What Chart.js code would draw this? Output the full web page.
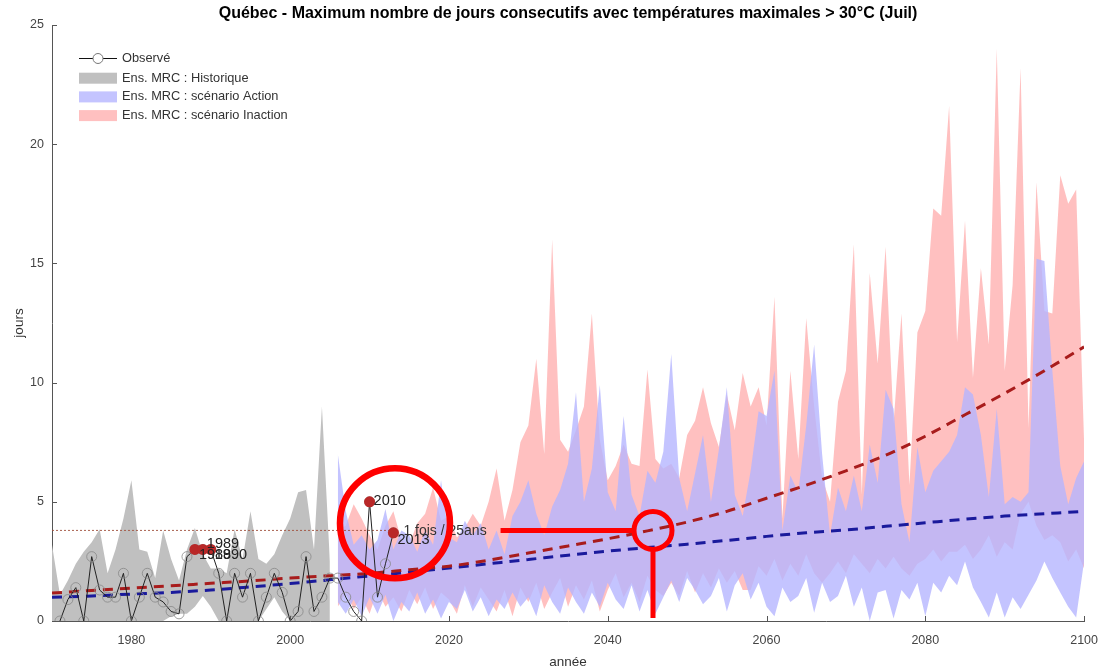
<!DOCTYPE html>
<html>
<head>
<meta charset="utf-8">
<script src="https://cdn.jsdelivr.net/npm/chart.js@4.4.1/dist/chart.umd.min.js"></script>
<style>
  html, body { margin: 0; padding: 0; background: #fff; }
</style>
</head>
<body>
<canvas id="myChart" width="1110" height="672"></canvas>
<script>
// --- data ---
const xTicks = [1980, 2000, 2020, 2040, 2060, 2080, 2100];
const yTicks = [0, 5, 10, 15, 20, 25];

const histYears = [];
for (let yr = 1970; yr <= 2005; yr++) histYears.push(yr);
const scenYears = [];
for (let yr = 2006; yr <= 2100; yr++) scenYears.push(yr);
const obsYears = [];
for (let yr = 1971; yr <= 2013; yr++) obsYears.push(yr);
const trendYears = [];
for (let yr = 1970; yr <= 2100; yr += 5) trendYears.push(yr);

// Observed max consecutive days > 30°C (1971-2013)
const observed = [0, 0.9, 1.4, 0, 2.7, 1.3, 1.0, 1.0, 2.0, 0,
  1.0, 2.0, 1.0, 0.8, 0.4, 0.3, 2.7, 3.0, 3.0, 3.0,
  2.0, 0, 2.0, 1.0, 2.0, 0, 1.0, 2.0, 1.2, 0,
  0.4, 2.7, 0.4, 1.0, 1.8, 1.8, 1.0, 0.4, 0, 5.0,
  1.0, 2.4, 3.7];

// highlighted (above 1-in-25 yr level)
const highlightYears = [1988, 1989, 1990, 2010, 2013];
const highlightVals = [3.0, 3.0, 3.0, 5.0, 3.7];

// Ens. MRC historical envelope (1970-2005)
const histUpper = [3.2, 1.1, 1.7, 2.4, 2.9, 3.3, 3.85, 2.0, 3.0, 4.3,
  5.9, 3.0, 2.9, 1.8, 3.8, 2.6, 1.7, 3.0, 3.9, 2.8,
  2.2, 2.2, 2.0, 3.85, 2.6, 4.6, 2.6, 2.4, 2.8, 3.6,
  4.3, 5.4, 5.5, 3.0, 9.0, 2.5];
const histLower = [0, 0, 0, 0, 0, 0, 0, 0, 0, 0,
  0, 0, 0, 0, 0, 0.2, 0.3, 0.3, 0.6, 1.05,
  0.6, 0, 0, 0, 0, 0, 0, 0.5, 1.0, 0.4,
  0, 0, 0, 0, 0, 0];

// scénario Action envelope (2006-2100)
const actionUpper = [7.0, 4.6, 3.2, 3.6, 3.0, 3.4, 4.7, 3.0, 3.8, 3.6,
  2.9, 3.8, 3.2, 5.9, 3.5, 3.3, 4.2, 3.6, 4.1, 3.0,
  3.8, 2.8, 4.4, 5.0, 5.9, 4.5, 3.6, 4.8, 5.5, 6.6,
  9.6, 5.0, 6.4, 9.9, 5.4, 4.6, 8.6, 5.3, 4.4, 6.3,
  5.8, 7.1, 11.2, 6.0, 4.6, 6.2, 7.8, 5.0, 7.2, 9.8,
  5.3, 4.4, 6.3, 8.8, 8.6, 10.5, 3.8, 6.1, 5.4, 8.2,
  11.6, 7.0, 3.6, 5.6, 4.6, 6.1, 4.6, 7.4, 5.8, 9.7,
  8.9, 4.9, 3.3, 7.3, 5.4, 6.3, 6.7, 7.1, 7.8, 9.8,
  9.5, 7.8, 5.2, 8.9, 4.9, 5.2, 5.0, 5.4, 15.2, 15.1,
  10.5, 6.5, 4.9, 6.0, 6.7];
const actionLower = [0.8, 0.3, 0.9, 0.2, 1.0, 0.3, 1.1, 0.0, 0.8, 0.4,
  1.2, 0.3, 0.9, 0.1, 0.8, 0.5, 1.3, 0.4, 1.0, 0.2,
  0.9, 0.5, 1.2, 0.6, 1.0, 0.2, 1.5, 0.8, 0.3, 1.4,
  0.8, 0.3, 1.2, 0.6, 1.6, 0.9, 0.5, 1.5, 0.4, 1.3,
  0.3, 1.0, 1.7, 0.8, 1.8, 1.3, 0.7, 1.05, 1.8, 0.4,
  1.5, 2.0, 0.9, 1.6, 0.6, 0.2, 1.4, 0.8, 1.05, 1.8,
  0.35, 1.6, 0.8, 1.05, 1.9, 0.6, 1.4, 0.0, 1.2, 1.3,
  0.1, 1.3, 0.9, 1.6, 0.2, 1.6, 1.2, 1.9, 1.5, 2.5,
  1.4, 0.8, 0.15, 1.2, 0.15, 1.0, 0.5, 1.1, 1.7, 2.5,
  1.8, 1.2, 0.6, 0.15, 2.5];

// scénario Inaction envelope (2006-2100)
const inactionUpper = [3.8, 4.0, 4.9, 4.3, 3.6, 3.0, 4.0, 4.6, 3.4, 3.2,
  4.1, 4.5, 5.6, 4.2, 4.4, 3.5, 3.9, 4.5, 4.0, 5.0,
  6.4, 4.2, 5.5, 7.5, 8.2, 11.0, 7.0, 16.0, 7.6, 7.1,
  8.0, 9.0, 12.9, 7.6, 5.9, 6.5, 7.4, 6.6, 6.5, 10.55,
  6.8, 6.4, 6.6, 6.0, 7.8, 8.4, 9.8, 8.3, 7.3, 9.5,
  8.0, 10.4, 9.0, 9.8, 8.2, 13.6, 4.3, 10.5, 6.8, 12.7,
  9.0, 6.0, 5.0, 9.2, 10.5, 15.8, 5.3, 14.6, 10.8, 15.7,
  8.3, 12.9, 5.7, 12.1, 13.0, 17.3, 17.0, 21.6, 11.7, 16.8,
  10.2, 14.8, 11.6, 24.0, 10.5, 14.1, 23.2, 8.1, 18.4, 13.0,
  12.9, 18.7, 17.5, 18.1, 7.5];
const inactionLower = [0.6, 1.2, 0.5, 1.0, 0.3, 1.3, 0.6, 1.0, 0.4, 1.3,
  0.7, 1.4, 0.5, 1.2, 0.9, 0.3, 1.5, 0.6, 1.4, 0.9,
  0.4, 1.3, 0.2, 1.4, 0.8, 1.6, 0.5, 1.2, 1.8, 0.6,
  1.5, 0.9, 1.7, 0.4, 1.3, 2.0, 1.0, 1.6, 0.8, 1.9,
  1.3, 1.05, 1.6, 1.05, 2.1, 1.2, 2.0, 1.4, 2.2, 1.6,
  2.1, 1.3, 1.3, 2.3, 1.9, 2.6, 1.7, 2.4, 1.9, 2.8,
  2.0, 1.6, 2.0, 2.5, 2.0, 2.8, 2.4, 2.0, 2.6, 2.2,
  2.7, 2.2, 1.9, 2.4, 2.6, 3.0, 2.5, 2.9, 2.9, 3.2,
  2.6, 3.0, 3.6, 2.7, 3.3, 3.0, 4.5, 5.0, 4.0, 3.4,
  3.6, 3.3, 2.5, 3.0, 2.2];

// trend curves (every 5 years, 1970-2100)
const trendInaction = [1.17, 1.28, 1.38, 1.48, 1.58, 1.68, 1.8, 1.9, 2.0, 2.15,
  2.3, 2.55, 2.85, 3.15, 3.45, 3.78, 4.15, 4.6, 5.15, 5.7,
  6.3, 6.95, 7.75, 8.65, 9.55, 10.5, 11.5];
const trendAction = [1.0, 1.05, 1.13, 1.2, 1.3, 1.43, 1.57, 1.73, 1.89, 2.05,
  2.22, 2.4, 2.58, 2.76, 2.93, 3.08, 3.22, 3.38, 3.55, 3.7,
  3.82, 3.97, 4.12, 4.27, 4.4, 4.5, 4.6];

// 1-in-25-years level
const seuil = 3.8;
const seuilYears = [1970, 2013];
const crossYear = 2045.7;      // where the Inaction trend reaches the level
const arrowStartYear = 2026.5;
const focusYear = 2013.2;      // hand-drawn circle around 2010-2013
const focusValue = 4.1;

const pts = (xs, ys) => xs.map((x, i) => ({ x: x, y: ys[i] }));

const FONT = '"Liberation Sans", Arial, Helvetica, sans-serif';
const PINK = 'rgba(255,140,140,0.55)';
const BLUE = 'rgba(181,181,255,0.8)';
const GRAY = 'rgb(192,192,192)';

const band = (data, color, fill, order) => ({
  data: data, borderWidth: 0, pointRadius: 0, backgroundColor: color,
  fill: fill, order: order, tension: 0
});

// extra drawing: title, inner ticks, legend, labels, annotations
const decor = {
  id: 'decor',
  afterDatasetsDraw(chart) {
    const { ctx, chartArea: a, scales: { x, y } } = chart;
    ctx.save();

    // inward tick marks (matlab style)
    ctx.strokeStyle = '#555';
    ctx.lineWidth = 1;
    ctx.beginPath();
    yTicks.forEach(v => {
      const py = Math.round(y.getPixelForValue(v)) + 0.5;
      ctx.moveTo(a.left, py); ctx.lineTo(a.left + 5, py);
    });
    xTicks.forEach(v => {
      const px = Math.round(x.getPixelForValue(v)) + 0.5;
      ctx.moveTo(px, a.bottom); ctx.lineTo(px, a.bottom - 5);
    });
    ctx.stroke();

    // labels on highlighted years
    const shifts = { 1988: 6, 1989: -5, 1990: 6, 2010: -1, 2013: 7 };
    ctx.font = '14.5px ' + FONT;
    ctx.fillStyle = '#222';
    ctx.textAlign = 'left';
    ctx.textBaseline = 'middle';
    highlightYears.forEach((yr, i) => {
      const px = x.getPixelForValue(yr), py = y.getPixelForValue(highlightVals[i]);
      ctx.fillText(String(yr), px + 4, py + shifts[yr]);
    });

    // 1 fois / 25ans
    const sy = y.getPixelForValue(seuil);
    ctx.fillStyle = '#333';
    ctx.font = '14px ' + FONT;
    ctx.fillText('1 fois / 25ans', x.getPixelForValue(seuilYears[1]) + 10, sy + 1);

    // red hand-drawn annotations
    ctx.strokeStyle = '#ff0000';
    ctx.lineWidth = 5;
    const cx = x.getPixelForValue(crossYear), r = 19;
    ctx.beginPath();
    ctx.moveTo(x.getPixelForValue(arrowStartYear), sy);
    ctx.lineTo(cx - r, sy);
    ctx.stroke();
    ctx.beginPath();
    ctx.arc(cx, sy, r, 0, Math.PI * 2);
    ctx.stroke();
    ctx.beginPath();
    ctx.moveTo(cx, sy + r);
    ctx.lineTo(cx, a.bottom - 3);
    ctx.stroke();
    ctx.lineWidth = 6.5;
    ctx.beginPath();
    ctx.arc(x.getPixelForValue(focusYear), y.getPixelForValue(focusValue), 55, 0, Math.PI * 2);
    ctx.stroke();

    // legend (top left, no box)
    const lx = a.left + 27;
    ctx.font = '12.8px ' + FONT;
    ctx.strokeStyle = '#111';
    ctx.lineWidth = 1;
    ctx.beginPath();
    ctx.moveTo(lx, a.top + 33.5); ctx.lineTo(lx + 38, a.top + 33.5);
    ctx.stroke();
    ctx.fillStyle = '#fff';
    ctx.strokeStyle = '#777';
    ctx.beginPath();
    ctx.arc(lx + 19, a.top + 33.5, 5, 0, Math.PI * 2);
    ctx.fill(); ctx.stroke();
    const rows = [
      ['Observé', null],
      ['Ens. MRC : Historique', GRAY],
      ['Ens. MRC : scénario Action', BLUE],
      ['Ens. MRC : scénario Inaction', PINK]
    ];
    rows.forEach((row, i) => {
      const ry = a.top + 33 + (i === 0 ? 0 : 1.5 + i * 18.7);
      if (row[1]) {
        ctx.fillStyle = row[1];
        ctx.fillRect(lx, ry - 5.5, 38, 11);
      }
      ctx.fillStyle = '#333';
      ctx.fillText(row[0], lx + 43, ry);
    });

    // title
    ctx.fillStyle = '#000';
    ctx.font = 'bold 16px ' + FONT;
    ctx.textAlign = 'center';
    ctx.fillText('Québec - Maximum nombre de jours consecutifs avec températures maximales > 30°C (Juil)',
      (a.left + a.right) / 2, 14);
    ctx.restore();
  }
};

const ctx = document.getElementById('myChart').getContext('2d');
new Chart(ctx, {
  type: 'line',
  data: {
    datasets: [
      // highlighted observations (top)
      {
        data: pts(highlightYears, highlightVals), showLine: false,
        pointRadius: 5.5, pointBackgroundColor: 'rgb(185,40,40)', pointBorderWidth: 0,
        order: 1
      },
      // observed
      {
        data: pts(obsYears, observed), borderColor: '#222', borderWidth: 1,
        pointRadius: 5, pointBorderColor: '#888', pointBorderWidth: 0.8,
        pointBackgroundColor: 'rgba(0,0,0,0)', tension: 0, order: 2
      },
      // trends
      {
        data: pts(trendYears, trendInaction), borderColor: '#a81c1c', borderWidth: 3,
        borderDash: [10, 7], pointRadius: 0, cubicInterpolationMode: 'monotone', order: 3
      },
      {
        data: pts(trendYears, trendAction), borderColor: '#1a1a9c', borderWidth: 3,
        borderDash: [10, 7], pointRadius: 0, cubicInterpolationMode: 'monotone', order: 3
      },
      // 1 in 25 years level
      {
        data: seuilYears.map(yr => ({ x: yr, y: seuil })), borderColor: 'rgba(160,80,60,0.9)',
        borderWidth: 1, borderDash: [2, 2], pointRadius: 0, order: 4
      },
      // envelopes
      band(pts(scenYears, actionUpper), BLUE, '+1', 5),
      band(pts(scenYears, actionLower), BLUE, false, 5),
      band(pts(scenYears, inactionUpper), PINK, '+1', 6),
      band(pts(scenYears, inactionLower), PINK, false, 6),
      band(pts(histYears, histUpper), GRAY, '+1', 7),
      band(pts(histYears, histLower), GRAY, false, 7)
    ]
  },
  options: {
    responsive: false,
    animation: false,
    devicePixelRatio: 1,
    layout: { padding: { top: 25, right: 22, bottom: 0, left: 0 } },
    plugins: {
      legend: { display: false },
      tooltip: { enabled: false },
      title: { display: false }
    },
    scales: {
      x: {
        type: 'linear', min: 1970, max: 2100,
        afterBuildTicks: s => { s.ticks = xTicks.map(v => ({ value: v })); },
        afterFit: s => { s.height = 51; },
        grid: { display: false, drawTicks: false },
        border: { display: true, color: '#555', width: 1 },
        ticks: {
          padding: 12, maxRotation: 0, autoSkip: false, color: '#444',
          font: { family: FONT, size: 12.5 }, callback: v => String(v)
        },
        title: {
          display: true, text: 'année', color: '#333',
          font: { family: FONT, size: 13.5 }, padding: { top: 0, bottom: 2 }
        }
      },
      y: {
        min: 0, max: 25,
        afterBuildTicks: s => { s.ticks = yTicks.map(v => ({ value: v })); },
        afterFit: s => { s.width = 52; },
        grid: { display: false, drawTicks: false },
        border: { display: true, color: '#555', width: 1 },
        ticks: {
          padding: 8, color: '#444', font: { family: FONT, size: 12.5 },
          callback: v => String(v)
        },
        title: {
          display: true, text: 'jours', color: '#333',
          font: { family: FONT, size: 13.5 }, padding: { top: 11, bottom: 0 }
        }
      }
    }
  },
  plugins: [decor]
});
</script>
</body>
</html>
